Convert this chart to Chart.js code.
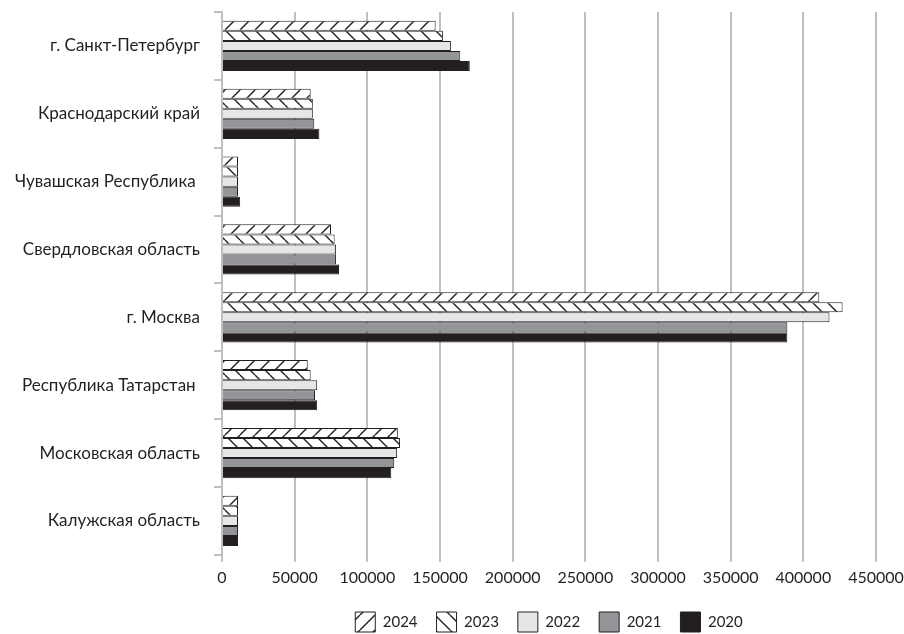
<!DOCTYPE html>
<html>
<head>
<meta charset="utf-8">
<script src="https://cdn.jsdelivr.net/npm/chart.js@4.4.1/dist/chart.umd.min.js"></script>
<style>
html,body{margin:0;padding:0;background:#fff;}
#wrap{width:904px;height:634px;position:relative;}
</style>
</head>
<body>
<div id="wrap"><canvas id="c" width="904" height="634"></canvas></div>
<script>
const categories = [
  "г. Санкт-Петербург",
  "Краснодарский край",
  "Чувашская Республика ",
  "Свердловская область",
  "г. Москва",
  "Республика Татарстан ",
  "Московская область",
  "Калужская область"
];
const years = ["2024", "2023", "2022", "2021", "2020"];
const v2024 = [147000, 61000, 11000, 75000, 411000, 59000, 121000, 11000];
const v2023 = [152000, 62500, 11000, 77500, 427000, 61000, 122500, 11000];
const v2022 = [157500, 62500, 11000, 78500, 418000, 65500, 120500, 11000];
const v2021 = [164000, 63500, 11000, 78500, 389000, 64000, 118500, 11000];
const v2020 = [170500, 67000, 12500, 80500, 389000, 65500, 116500, 11000];
const xTicks = [0, 50000, 100000, 150000, 200000, 250000, 300000, 350000, 400000, 450000];

const INK = '#231f20';
function hatch(dir){
  const s = 15;
  const cv = document.createElement('canvas');
  cv.width = s; cv.height = s;
  const g = cv.getContext('2d');
  g.fillStyle = '#fff'; g.fillRect(0,0,s,s);
  g.strokeStyle = INK; g.lineWidth = 1.4;
  for (const x0 of [-s, 0, s]) {
    g.beginPath();
    if (dir === '/') { g.moveTo(x0, s); g.lineTo(x0 + s, 0); }
    else { g.moveTo(x0, 0); g.lineTo(x0 + s, s); }
    g.stroke();
  }
  return g.createPattern(cv, 'repeat');
}
const ctx = document.getElementById('c').getContext('2d');
const fills = [hatch('/'), hatch('\\'), '#e6e6e7', '#939598', INK];
const series = [v2024, v2023, v2022, v2021, v2020];

const FONT = 'Lato';
new Chart(ctx, {
  type: 'bar',
  data: {
    labels: categories,
    datasets: years.map((y, i) => ({
      label: y,
      data: series[i],
      backgroundColor: fills[i],
      borderColor: INK,
      borderWidth: 1,
      categoryPercentage: 0.74,
      barPercentage: 1.0
    }))
  },
  options: {
    indexAxis: 'y',
    responsive: false,
    animation: false,
    devicePixelRatio: 1,
    layout: { padding: { top: 12, right: 28, bottom: -8, left: 0 } },
    plugins: {
      tooltip: { enabled: false },
      legend: {
        position: 'bottom',
        fullSize: false,
        labels: {
          boxWidth: 20, boxHeight: 20, padding: 19,
          color: INK,
          font: { family: FONT, size: 15 }
        }
      }
    },
    scales: {
      x: {
        min: 0, max: 450000,
        afterBuildTicks: (s) => { s.ticks = xTicks.map(v => ({ value: v })); },
        afterFit: (s) => { s.paddingLeft = 0; s.paddingRight = 0; },
        grid: { color: '#bfbfbf', lineWidth: 2, tickLength: 7, drawTicks: true },
        border: { display: false },
        ticks: { color: INK, font: { family: FONT, size: 16 }, padding: 6, maxRotation: 0, autoSkip: false, callback: (v) => String(v) }
      },
      y: {
        afterFit: (s) => { s.width = 222; s.paddingTop = 0; s.paddingBottom = 0; },
        grid: { color: '#bfbfbf', lineWidth: 2, offset: true, drawOnChartArea: false, tickLength: 8 },
        border: { display: true, color: '#bfbfbf', width: 2 },
        ticks: { color: INK, font: { family: FONT, size: 17 }, padding: 14 }
      }
    }
  }
});
</script>
</body>
</html>
